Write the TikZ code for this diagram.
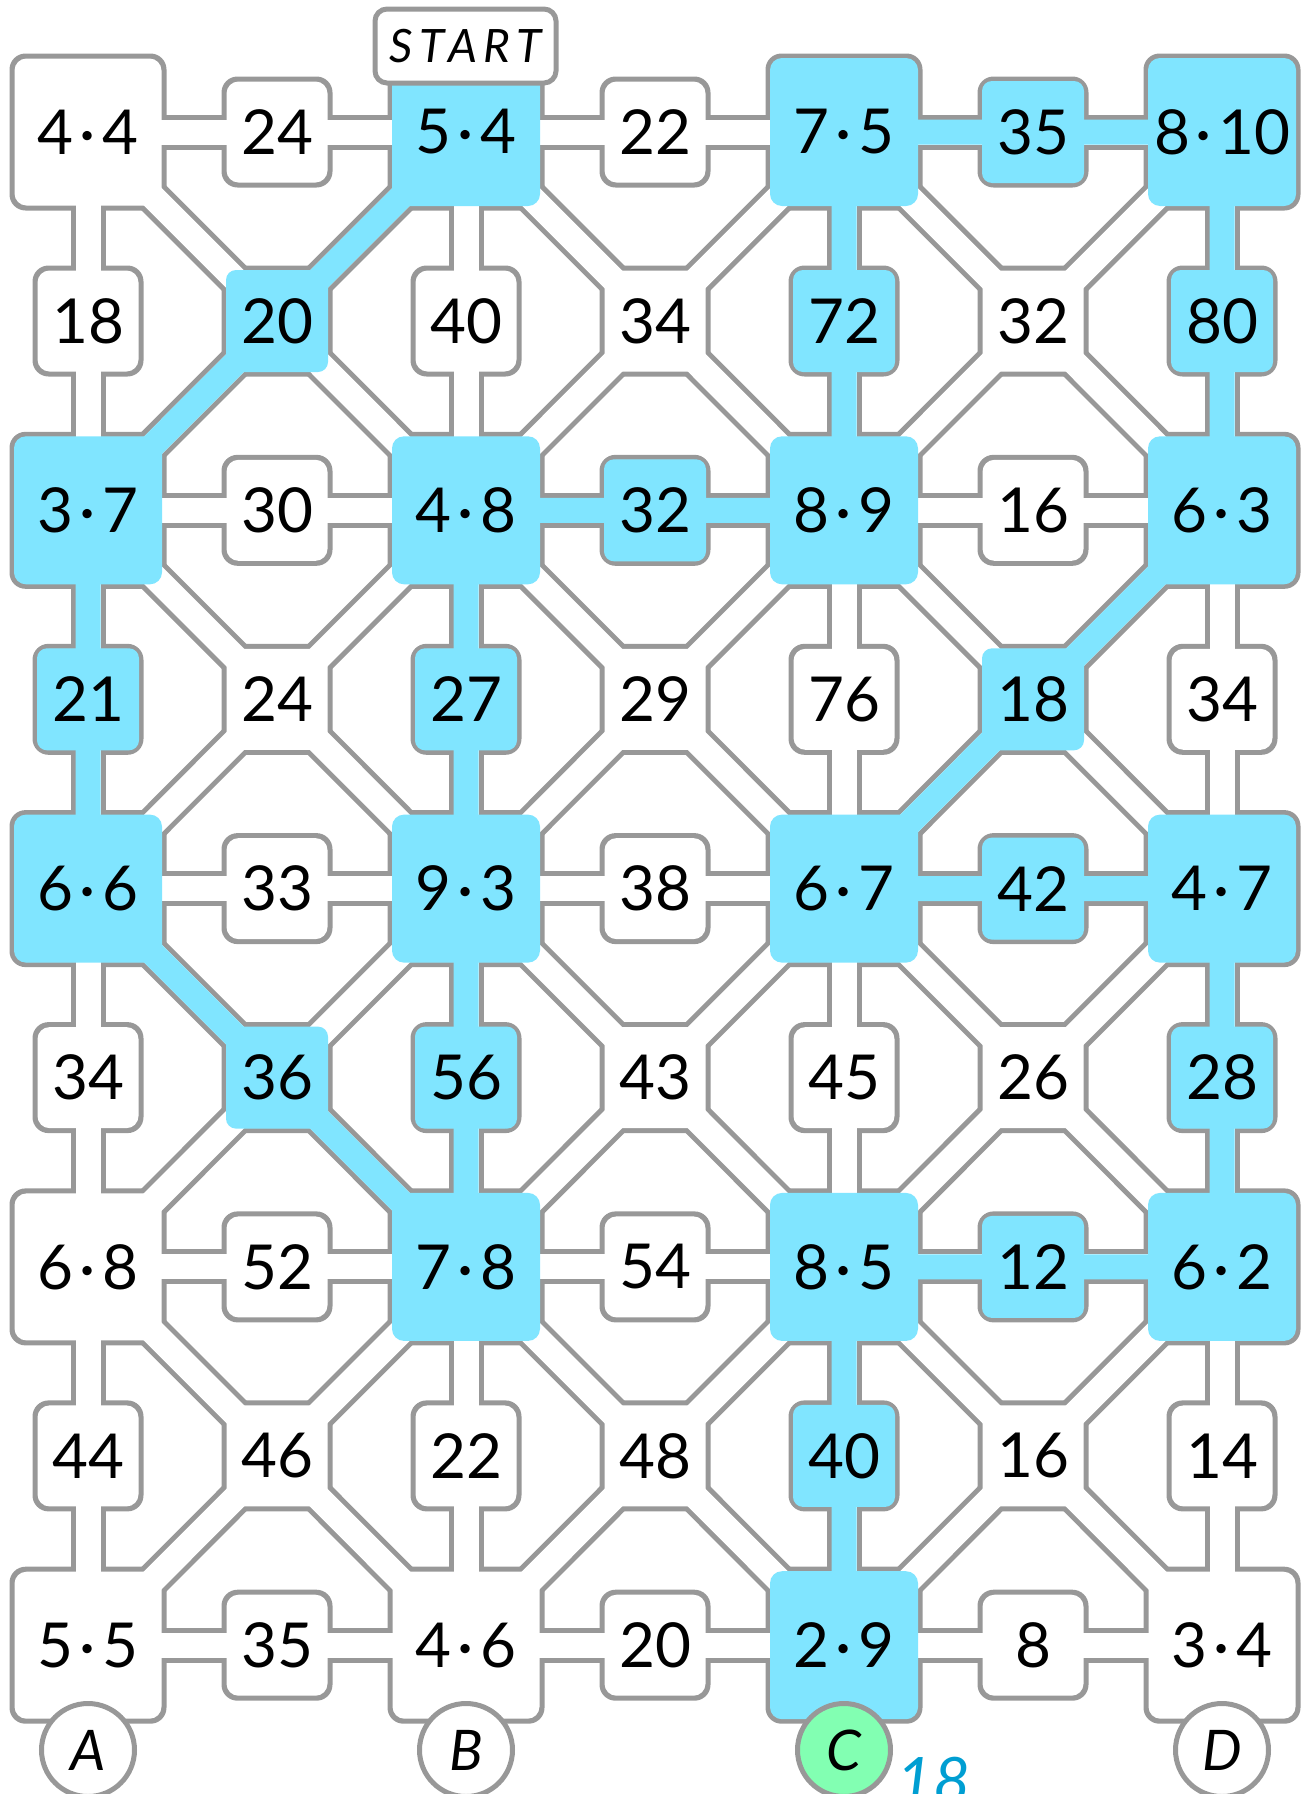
\documentclass[tikz,border=0pt]{standalone}
\usepackage{fontspec}
\setmainfont{Lato}
\newfontfamily\handfont[LetterSpace=14.0]{Lato}
\newfontfamily\countfont{Lato}
\usetikzlibrary{calc}

\definecolor{wallgray}{RGB}{152,152,152}
\definecolor{trailcyan}{RGB}{128,229,255}
\definecolor{goalgreen}{RGB}{130,255,178}
\definecolor{countblue}{RGB}{0,158,210}

\pgfdeclarelayer{walls}
\pgfdeclarelayer{floor}
\pgfdeclarelayer{trail}
\pgfsetlayers{walls,floor,trail,main}

\newcommand\by{\kern3pt·\kern3pt}
\newcommand\corridors[1]{%
  \foreach \ci in {0,1,2}
    \foreach \ri in {0,...,4}{
      \pgfmathtruncatemacro\cn{\ci+1}
      \pgfmathtruncatemacro\rn{\ri+1}
      \draw[#1] (m-\ci-\ri.center) -- (h-\ci-\ri.center) -- (m-\cn-\ri.center);
      \ifnum\ri<4
        \draw[#1] (m-\ci-\ri.center) -- (d-\ci-\ri.center) -- (m-\cn-\rn.center);
        \draw[#1] (m-\cn-\ri.center) -- (d-\ci-\ri.center) -- (m-\ci-\rn.center);
      \fi}
  \foreach \ci in {0,...,3}
    \foreach \ri in {0,...,3}{
      \pgfmathtruncatemacro\rn{\ri+1}
      \draw[#1] (m-\ci-\ri.center) -- (v-\ci-\ri.center) -- (m-\ci-\rn.center);}
}
\newcommand\tile[3]{\fill[#3] (#1.center) +(-#2,-#2) rectangle +(#2,#2);}
\newcommand\tiles[3]{%
  \foreach \ci in {0,...,3} \foreach \ri in {0,...,4} \tile{m-\ci-\ri}{#2}{#1};
  \foreach \ci in {0,1,2} \foreach \ri in {0,...,4} \tile{h-\ci-\ri}{#3}{#1};
  \foreach \ci in {0,...,3} \foreach \ri in {0,...,3} \tile{v-\ci-\ri}{#3}{#1};
  \foreach \ci in {0,1,2} \foreach \ri in {0,...,3} \tile{d-\ci-\ri}{#3}{#1};
}

\begin{document}
\begin{tikzpicture}[
  x=0.5pt, y=-0.5pt,
  num/.style={inner sep=0pt, font=\fontsize{31}{31}\selectfont},
  wall/.style={draw=wallgray, line width=17.5pt},
  floorway/.style={draw=white, line width=12.5pt},
  trail/.style={draw=trailcyan, line width=12.5pt, line join=round},
  startbox/.style={draw=wallgray, line width=2.5pt, fill=white, rounded corners=6pt,
    minimum width=90.5pt, minimum height=37pt, inner sep=0pt,
    font=\handfont\itshape\fontsize{23}{23}\selectfont},
  goal/.style={circle, draw=wallgray, line width=2.5pt, fill=white, minimum size=46.5pt,
    inner sep=0pt, font=\handfont\itshape\fontsize{28}{28}\selectfont},
  count/.style={inner sep=0pt, text=countblue, font=\countfont\itshape\fontsize{32}{32}\selectfont}
]
  \useasboundingbox (0,0) rectangle (1303,1794);

  \foreach \lft/\rgt [count=\i from 0] in {4/4,5/4,7/5,8/10,3/7,4/8,8/9,6/3,6/6,9/3,6/7,4/7,6/8,7/8,8/5,6/2,5/5,4/6,2/9,3/4}{
    \pgfmathtruncatemacro\ci{mod(\i,4)}
    \pgfmathtruncatemacro\ri{\i/4}
    \node[num] (m-\ci-\ri) at (88+378*\ci, 132+378.3*\ri) {\lft\by\rgt};
  }
  \foreach \lab [count=\i from 0] in {24,22,35,30,32,16,33,38,42,52,54,12,35,20,8}{
    \pgfmathtruncatemacro\ci{mod(\i,3)}
    \pgfmathtruncatemacro\ri{\i/3}
    \node[num] (h-\ci-\ri) at (277+378*\ci, 132+378.3*\ri) {\lab};
  }
  \foreach \lab [count=\i from 0] in {18,40,72,80,21,27,76,34,34,56,45,28,44,22,40,14}{
    \pgfmathtruncatemacro\ci{mod(\i,4)}
    \pgfmathtruncatemacro\ri{\i/4}
    \node[num] (v-\ci-\ri) at (88+378*\ci, 321+378.3*\ri) {\lab};
  }
  \foreach \lab [count=\i from 0] in {20,34,32,24,29,18,36,43,26,46,48,16}{
    \pgfmathtruncatemacro\ci{mod(\i,3)}
    \pgfmathtruncatemacro\ri{\i/3}
    \node[num] (d-\ci-\ri) at (277+378*\ci, 321+378.3*\ri) {\lab};
  }

  \begin{pgfonlayer}{walls}
    \corridors{wall}
    \tiles{fill=wallgray, rounded corners=8pt}{39.25pt}{27.75pt}
  \end{pgfonlayer}
  \begin{pgfonlayer}{floor}
    \corridors{floorway}
    \tiles{fill=white, rounded corners=6pt}{36.75pt}{25.25pt}
  \end{pgfonlayer}
  \begin{pgfonlayer}{trail}
    \draw[trail] (m-1-0) -- (d-0-0) -- (m-0-1) -- (v-0-1) -- (m-0-2) -- (d-0-2)
      -- (m-1-3) -- (v-1-2) -- (m-1-2) -- (v-1-1) -- (m-1-1) -- (h-1-1) -- (m-2-1)
      -- (v-2-0) -- (m-2-0) -- (h-2-0) -- (m-3-0) -- (v-3-0) -- (m-3-1) -- (d-2-1)
      -- (m-2-2) -- (h-2-2) -- (m-3-2) -- (v-3-2) -- (m-3-3) -- (h-2-3) -- (m-2-3)
      -- (v-2-3) -- (m-2-4);
    \foreach \t in {m-1-0,m-0-1,m-0-2,m-1-3,m-1-2,m-1-1,m-2-1,m-2-0,m-3-0,m-3-1,m-2-2,m-3-2,m-3-3,m-2-3,m-2-4}
      \tile{\t}{37pt}{fill=trailcyan, rounded corners=6pt};
    \foreach \t in {d-0-0,v-0-1,d-0-2,v-1-2,v-1-1,h-1-1,v-2-0,h-2-0,v-3-0,d-2-1,h-2-2,v-3-2,h-2-3,v-2-3}
      \tile{\t}{25.5pt}{fill=trailcyan, rounded corners=5pt};
  \end{pgfonlayer}

  \node[startbox] (start) at (465.5,46) {START};
  \node[goal] (A) at (88,1750) {A};
  \node[goal] (B) at (466,1750) {B};
  \node[goal, fill=goalgreen] (C) at (844,1750) {C};
  \node[goal] (D) at (1222,1750) {D};
  \node[count, anchor=north west] (steps) at (896,1757) {18};
\end{tikzpicture}
\end{document}
